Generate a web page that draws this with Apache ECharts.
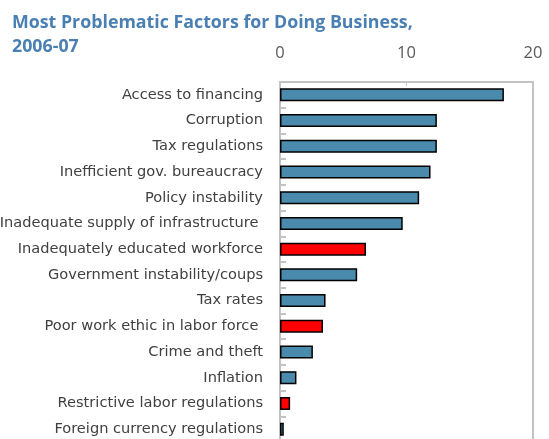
<!DOCTYPE html>
<html>
<head>
<meta charset="utf-8">
<script src="https://cdn.jsdelivr.net/npm/echarts@6/dist/echarts.min.js"></script>
<style>
  html, body { margin: 0; padding: 0; background: #ffffff; }
  #chart { width: 549px; height: 439px; }
</style>
</head>
<body>
<div id="chart"></div>
<script>
// Survey factors, top to bottom
const factors = [
  "Access to financing",
  "Corruption",
  "Tax regulations",
  "Inefficient gov. bureaucracy",
  "Policy instability",
  "Inadequate supply of infrastructure ",
  "Inadequately educated workforce",
  "Government instability/coups",
  "Tax rates",
  "Poor work ethic in labor force ",
  "Crime and theft",
  "Inflation",
  "Restrictive labor regulations",
  "Foreign currency regulations"
];
// Percent of responses
const shares = [17.7, 12.4, 12.4, 11.9, 11.0, 9.7, 6.8, 6.1, 3.6, 3.4, 2.6, 1.3, 0.8, 0.3];
// Labour-related factors are highlighted
const highlighted = [
  "Inadequately educated workforce",
  "Poor work ethic in labor force ",
  "Restrictive labor regulations"
];
const xTicks = { min: 0, max: 20, step: 10 };

const BLUE = "#4a8aad";
const RED = "#ff0000";
const GREY = "#c3c3c3";

const chart = echarts.init(document.getElementById("chart"), null, { renderer: "canvas" });
chart.setOption({
  animation: false,
  backgroundColor: "#ffffff",
  title: {
    text: "Most Problematic Factors for Doing Business,\n2006-07",
    left: 7,
    top: 6,
    textStyle: {
      fontFamily: "Open Sans",
      fontWeight: "bold",
      fontSize: 17.8,
      lineHeight: 24,
      color: "#4a7fb3"
    }
  },
  grid: {
    left: 280,
    top: 82,
    width: 253,
    height: 360,
    show: true,
    borderColor: GREY,
    borderWidth: 2,
    containLabel: false,
    outerBoundsMode: "none"
  },
  xAxis: {
    type: "value",
    position: "top",
    min: xTicks.min,
    max: xTicks.max,
    interval: xTicks.step,
    axisLine: { show: true, lineStyle: { color: GREY, width: 2 } },
    axisTick: { show: true, inside: true, length: 4, lineStyle: { color: GREY } },
    splitLine: { show: false },
    axisLabel: {
      margin: 20,
      fontFamily: "Open Sans",
      fontSize: 16.5,
      color: "#595959"
    }
  },
  yAxis: {
    type: "category",
    inverse: true,
    data: factors,
    axisLine: { show: true, lineStyle: { color: GREY, width: 2 } },
    axisTick: { show: true, inside: true, length: 6, lineStyle: { color: GREY, width: 2 } },
    axisLabel: {
      margin: 17,
      fontFamily: "DejaVu Sans",
      fontSize: 14.6,
      color: "#404040"
    }
  },
  series: [{
    type: "bar",
    barWidth: 13,
    data: shares.map((v, i) => ({
      value: v,
      itemStyle: { color: highlighted.includes(factors[i]) ? RED : BLUE }
    })),
    itemStyle: { borderColor: "#000000", borderWidth: 1.5 }
  }]
});
</script>
</body>
</html>
